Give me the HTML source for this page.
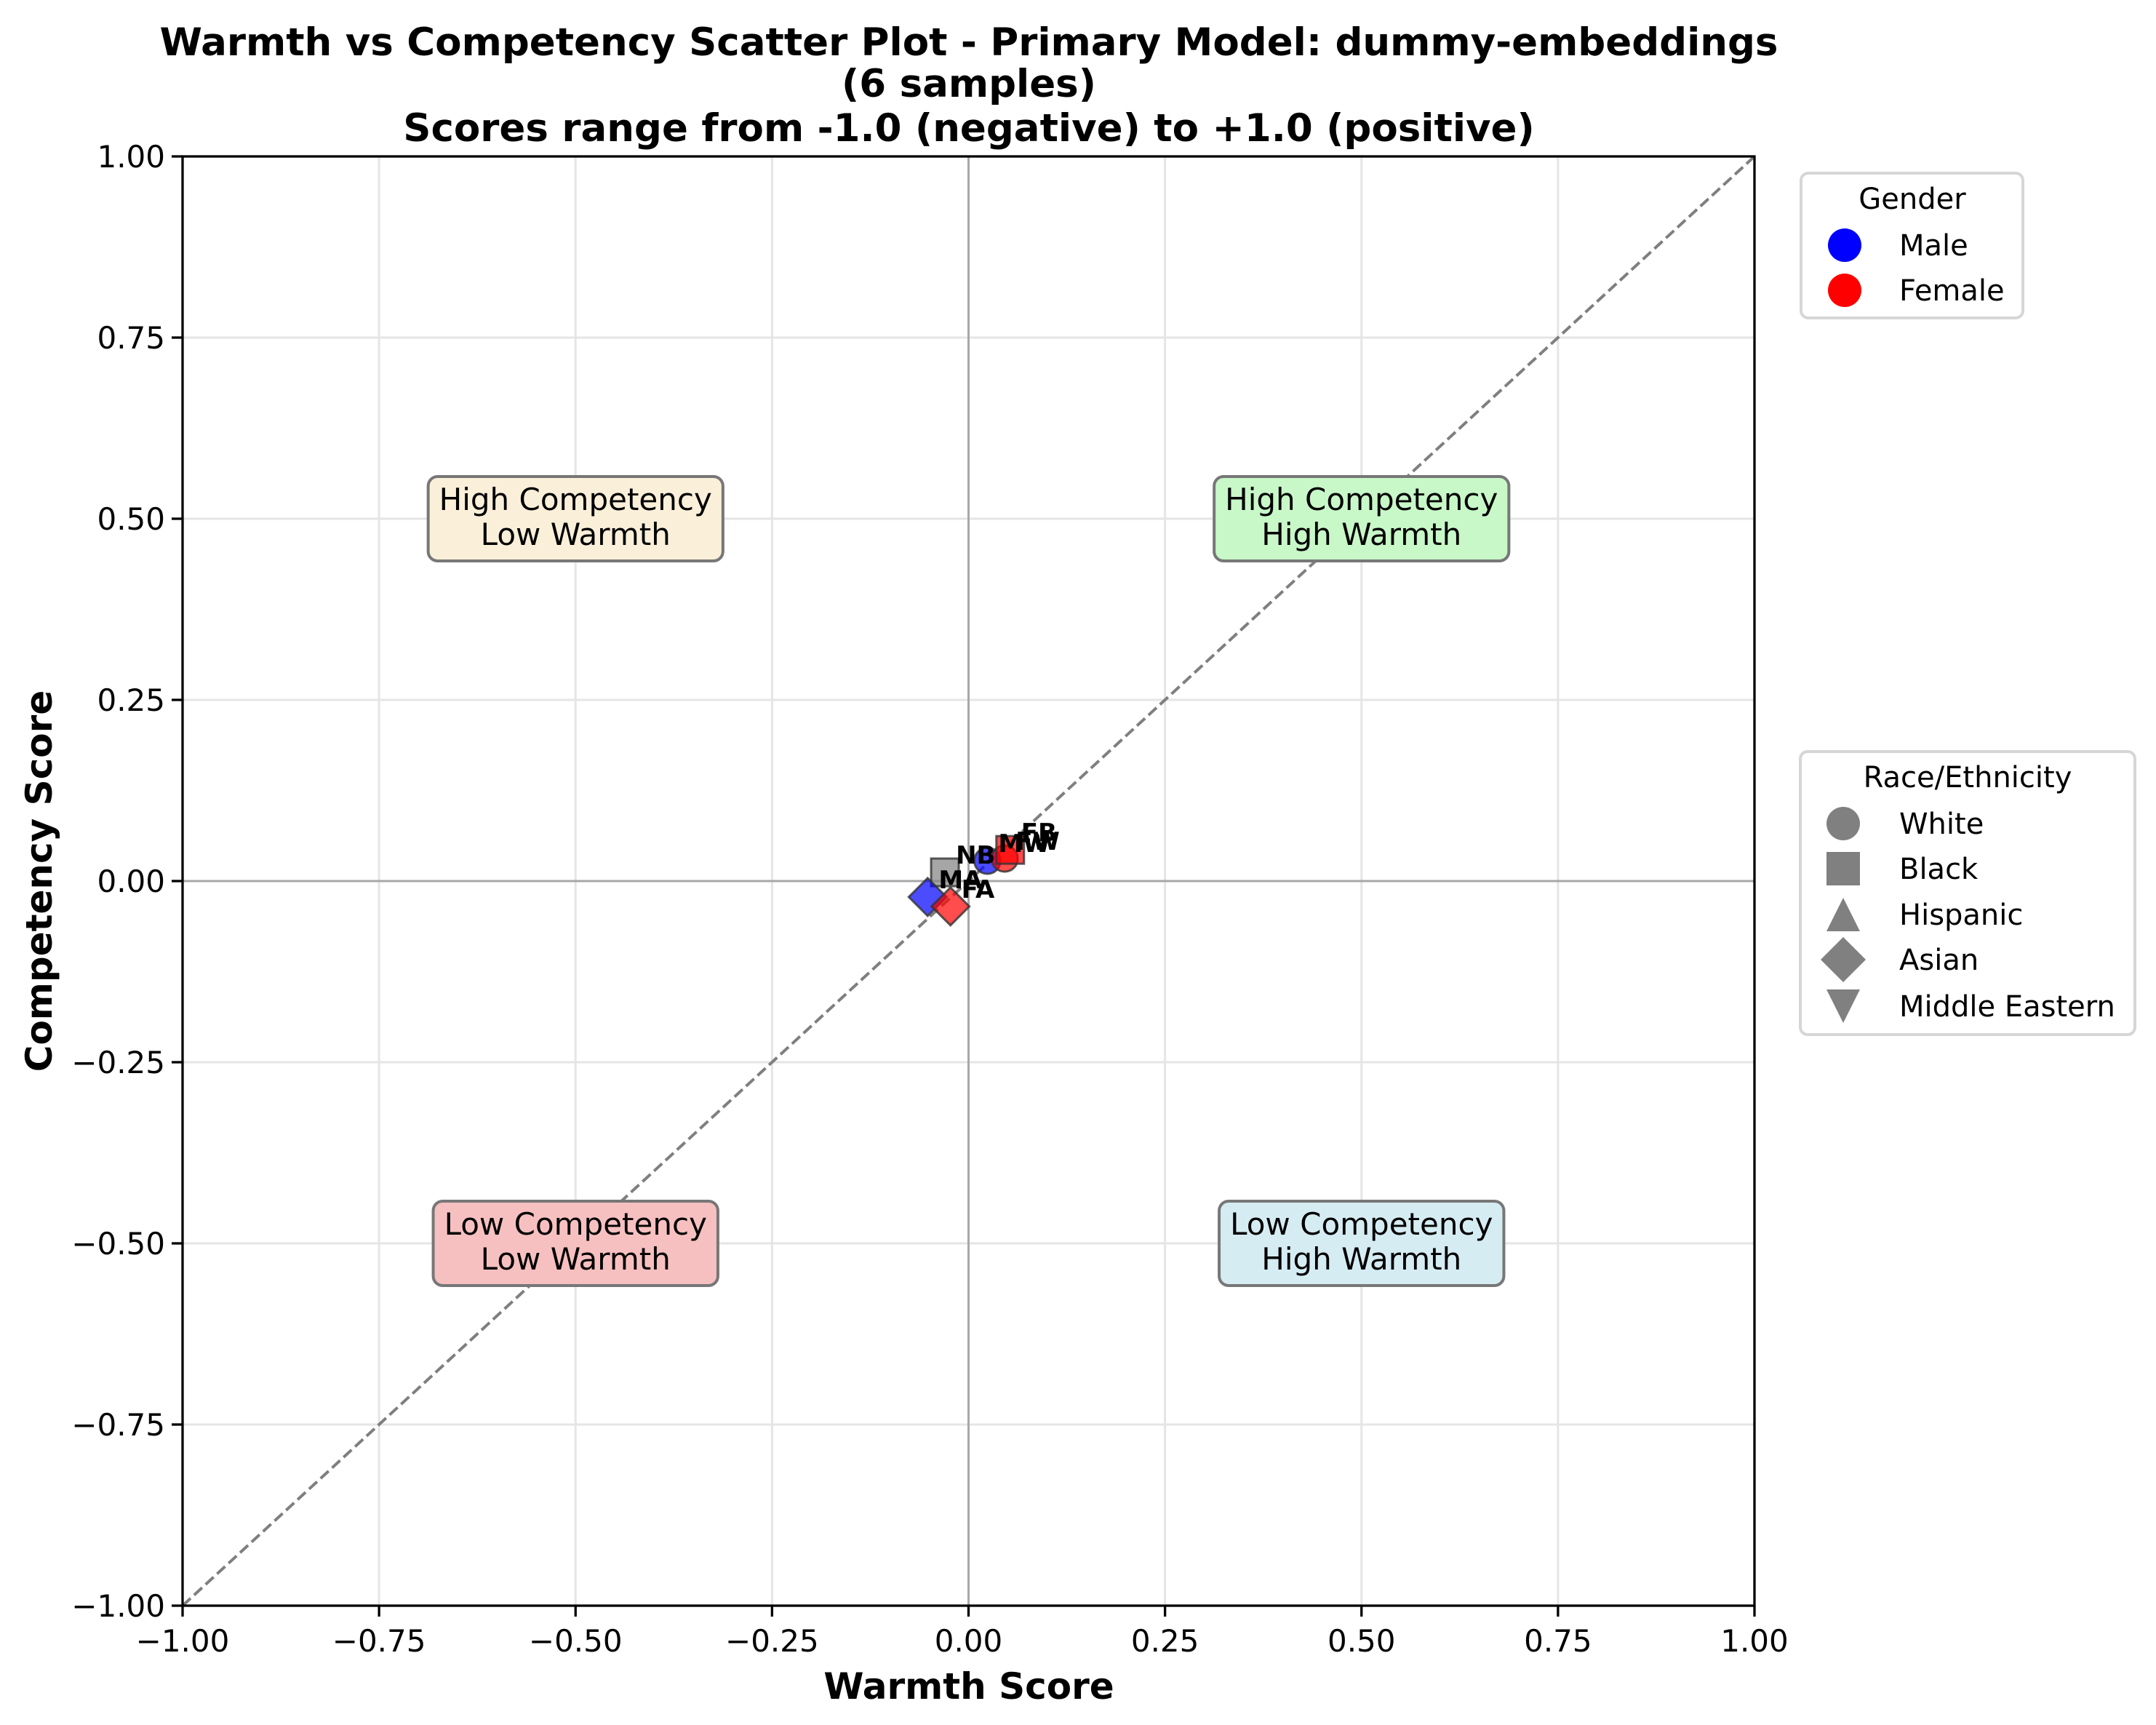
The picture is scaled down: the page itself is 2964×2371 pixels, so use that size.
<!DOCTYPE html>
<html><head><meta charset="utf-8"><style>
html,body{margin:0;padding:0;background:#fff}
svg{display:block;font-family:"DejaVu Sans","Liberation Sans",sans-serif}
</style></head><body>
<svg id="chart" width="2964" height="2371" viewBox="0 0 2964 2371" xmlns="http://www.w3.org/2000/svg">
<rect width="2964" height="2371" fill="#fff"/>
<g font-weight="bold" font-size="53" text-anchor="middle">
<text x="1332" y="76">Warmth vs Competency Scatter Plot - Primary Model: dummy-embeddings</text>
<text x="1332" y="133">(6 samples)</text>
<text x="1332" y="194">Scores range from -1.0 (negative) to +1.0 (positive)</text>
</g>
<g id="grid"></g>
<g id="quads"></g>
<g id="marks"></g>
<g id="axes"></g>
<text x="1332" y="2335" font-size="50" font-weight="bold" text-anchor="middle">Warmth Score</text>
<text transform="translate(71,1211) rotate(-90)" font-size="50" font-weight="bold" text-anchor="middle">Competency Score</text>
<g>
<rect x="2476" y="238" width="305" height="199" rx="10" fill="#fff" stroke="#d6d6d6" stroke-width="4"/>
<text x="2629" y="287" font-size="40" text-anchor="middle">Gender</text>
<circle cx="2536" cy="337" r="23" fill="#0000ff"/>
<text x="2611" y="351" font-size="40">Male</text>
<circle cx="2536" cy="399" r="23" fill="#ff0000"/>
<text x="2611" y="413" font-size="40">Female</text>
</g>
<g fill="#808080">
<rect x="2475" y="1033" width="460" height="389" rx="10" fill="#fff" stroke="#d6d6d6" stroke-width="4"/>
<text x="2705" y="1082" font-size="40" text-anchor="middle" fill="#000">Race/Ethnicity</text>
<circle cx="2534" cy="1132" r="23"/>
<text x="2611" y="1146" font-size="40" fill="#000">White</text>
<rect x="2511" y="1171" width="46" height="46"/>
<text x="2611" y="1208" font-size="40" fill="#000">Black</text>
<polygon points="2534,1234 2557,1280 2511,1280"/>
<text x="2611" y="1271" font-size="40" fill="#000">Hispanic</text>
<polygon points="2534,1288 2565,1319 2534,1350 2503,1319"/>
<text x="2611" y="1333" font-size="40" fill="#000">Asian</text>
<polygon points="2511,1360 2557,1360 2534,1406"/>
<text x="2611" y="1397" font-size="40" fill="#000">Middle Eastern</text>
</g>
</svg>
<script>
const xTicks=[-1,-0.75,-0.5,-0.25,0,0.25,0.5,0.75,1];
const yTicks=[-1,-0.75,-0.5,-0.25,0,0.25,0.5,0.75,1];
const warmth=[-0.030,0.024,0.046,0.053,-0.052,-0.023];
const competency=[0.012,0.028,0.031,0.043,-0.022,-0.035];
const genders=['other','male','female','female','male','female'];
const races=['Black','White','White','Black','Asian','Asian'];
const labels=['NB','MW','FW','FB','MA','FA'];
const quadText=[['High Competency','Low Warmth'],['High Competency','High Warmth'],['Low Competency','Low Warmth'],['Low Competency','High Warmth']];
const quadX=[-0.5,0.5,-0.5,0.5];
const quadY=[0.5,0.5,-0.5,-0.5];
const quadFill=['#faefd9','#c8f7c8','#f7c0c0','#d6ecf3'];

const NS='http://www.w3.org/2000/svg';
const L=251,R=2412,T=215,B=2207;
const sx=v=>L+(v+1)/2*(R-L);
const sy=v=>B-(v+1)/2*(B-T);
function mk(tag,attrs,parent){const e=document.createElementNS(NS,tag);for(const k in attrs)e.setAttribute(k,attrs[k]);parent.appendChild(e);return e;}
const fmt=v=>(v<0?'\u2212':'')+Math.abs(v).toFixed(2);
const grid=document.getElementById('grid'),axes=document.getElementById('axes'),quads=document.getElementById('quads'),marks=document.getElementById('marks');

xTicks.forEach(v=>{
  const g=mk('line',{x1:sx(v),x2:sx(v),y1:T,y2:B,stroke:'#e5e5e5','stroke-width':3},grid);
  
  
  const t=mk('line',{x1:sx(v),x2:sx(v),y1:B,y2:B+15,stroke:'#000','stroke-width':3.3},axes);
  
  
  const l=mk('text',{x:sx(v),y:B+63,'font-size':42,'text-anchor':'middle'},axes);
  l.textContent=fmt(v);
  
  
});
yTicks.forEach(v=>{
  const g=mk('line',{x1:L,x2:R,y1:sy(v),y2:sy(v),stroke:'#e5e5e5','stroke-width':3},grid);
  
  
  const t=mk('line',{x1:L-15,x2:L,y1:sy(v),y2:sy(v),stroke:'#000','stroke-width':3.3},axes);
  
  
  const l=mk('text',{x:L-24,y:sy(v)+15,'font-size':42,'text-anchor':'end'},axes);
  l.textContent=fmt(v);
  
  
});
let z=mk('line',{x1:sx(0),x2:sx(0),y1:T,y2:B,stroke:'#a8a8a8','stroke-width':3},grid);


z=mk('line',{x1:L,x2:R,y1:sy(0),y2:sy(0),stroke:'#a8a8a8','stroke-width':3},grid);


z=mk('line',{x1:sx(-1),y1:sy(-1),x2:sx(1),y2:sy(1),stroke:'#7f7f7f','stroke-width':4,'stroke-dasharray':'15 6.5'},grid);



quadText.forEach((lines,i)=>{
  const g=mk('g',{},quads);
  
  
  const cx=sx(quadX[i]),cy=sy(quadY[i]);
  const r=mk('rect',{y:cy-58,height:116,rx:13,fill:quadFill[i],stroke:'#777','stroke-width':4},g);
  let w=0;
  lines.forEach((s,j)=>{const t=mk('text',{x:cx,y:cy-26+48*j+14,'font-size':42,'text-anchor':'middle'},g);t.textContent=s;w=Math.max(w,t.getComputedTextLength());});
  r.setAttribute('x',cx-w/2-15);r.setAttribute('width',w+30);
});

const colors={male:'#0000ff',female:'#ff0000',other:'#808080'};
warmth.forEach((v,i)=>{
  const x=sx(v),y=sy(competency[i]);
  const a={fill:colors[genders[i]],'fill-opacity':0.7,stroke:'#333','stroke-opacity':0.8,'stroke-width':3};
  let m;
  if(races[i]==='White'){m=mk('circle',Object.assign({cx:x,cy:y,r:18},a),marks);}
  else if(races[i]==='Black'){m=mk('rect',Object.assign({x:x-19,y:y-19,width:38,height:38},a),marks);}
  else if(races[i]==='Asian'){m=mk('polygon',Object.assign({points:`${x},${y-26} ${x+26},${y} ${x},${y+26} ${x-26},${y}`},a),marks);}
  else if(races[i]==='Hispanic'){m=mk('polygon',Object.assign({points:`${x},${y-22} ${x+20},${y+16} ${x-20},${y+16}`},a),marks);}
  else {m=mk('polygon',Object.assign({points:`${x-20},${y-16} ${x+20},${y-16} ${x},${y+22}`},a),marks);}
  
  
});
warmth.forEach((v,i)=>{
  const t=mk('text',{x:sx(v)+15,y:sy(competency[i])-12,'font-size':34,'font-weight':'bold'},marks);
  t.textContent=labels[i];
  
  
});
const fr=mk('rect',{x:L,y:T,width:R-L,height:B-T,fill:'none',stroke:'#000','stroke-width':3.3},axes);


</script>
</body></html>
